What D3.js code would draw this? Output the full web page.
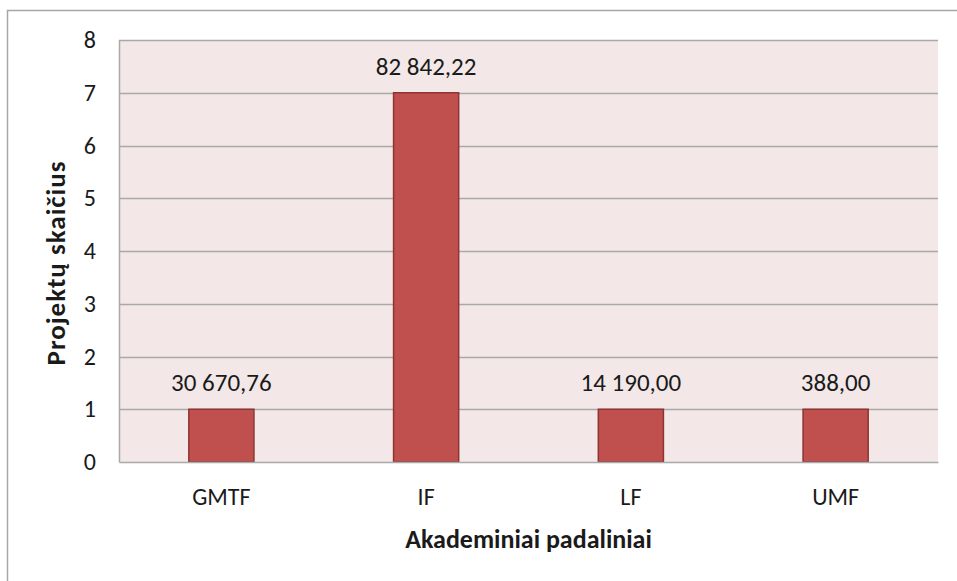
<!DOCTYPE html>
<html>
<head>
<meta charset="utf-8">
<script src="https://cdn.jsdelivr.net/npm/d3@7"></script>
<style>
  html, body { margin: 0; padding: 0; background: #ffffff; }
  svg { display: block; font-family: Carlito, Lato, "Open Sans", sans-serif; }
</style>
</head>
<body>
<svg id="chart" width="957" height="581"></svg>
<script>
// Academic units, number of projects and their funding labels
const units = ["GMTF", "IF", "LF", "UMF"];
const projectCounts = [1, 7, 1, 1];
const fundingLabels = ["30 670,76", "82 842,22", "14 190,00", "388,00"];
const yTicks = [0, 1, 2, 3, 4, 5, 6, 7, 8];

const svg = d3.select("#chart");
const W = 957, H = 581;
const plot = { left: 119, right: 938, top: 40, bottom: 462 };

// outer frame
svg.append("rect")
  .attr("x", 7.5).attr("y", 10.5)
  .attr("width", W + 10).attr("height", H + 10)
  .attr("fill", "#ffffff").attr("stroke", "#a6a6a6").attr("stroke-width", 1.5);

const x = d3.scaleBand().domain(units).range([plot.left, plot.right]).paddingInner(0.682).paddingOuter(0.341);
const y = d3.scaleLinear().domain([0, 8]).range([plot.bottom, plot.top]);

// plot background
svg.append("rect")
  .attr("x", plot.left).attr("y", plot.top)
  .attr("width", plot.right - plot.left).attr("height", plot.bottom - plot.top)
  .attr("fill", "#f3e8e7");

// horizontal gridlines
svg.append("g")
  .selectAll("line")
  .data(yTicks.filter(d => d > 0))
  .join("line")
  .attr("x1", plot.left).attr("x2", plot.right)
  .attr("y1", d => Math.round(y(d)) + 0.5).attr("y2", d => Math.round(y(d)) + 0.5)
  .attr("stroke", "#a9a9a9").attr("stroke-width", 1.5);

// bars
svg.append("g")
  .selectAll("rect")
  .data(units)
  .join("rect")
  .attr("x", d => x(d))
  .attr("y", (d, i) => y(projectCounts[i]))
  .attr("width", x.bandwidth())
  .attr("height", (d, i) => y(0) - y(projectCounts[i]))
  .attr("fill", "#c0504d")
  .attr("stroke", "#8e3432")
  .attr("stroke-width", 1.5);

// value labels
svg.append("g")
  .selectAll("text")
  .data(units)
  .join("text")
  .attr("x", d => x(d) + x.bandwidth() / 2)
  .attr("y", (d, i) => y(projectCounts[i]) - 18)
  .attr("text-anchor", "middle")
  .attr("font-size", 25)
  .attr("fill", "#1a1a1a")
  .text((d, i) => fundingLabels[i]);

// y axis
const yAxis = svg.append("g")
  .attr("transform", `translate(${plot.left},0)`)
  .call(d3.axisLeft(y).tickValues(yTicks).tickSize(0).tickPadding(23).tickFormat(d3.format("d")))
  .attr("font-family", null).attr("font-size", 24);
yAxis.select(".domain").attr("stroke", "#a9a9a9").attr("stroke-width", 1.5);
yAxis.selectAll("text").attr("fill", "#1a1a1a");

// x axis
const xAxis = svg.append("g")
  .attr("transform", `translate(0,${plot.bottom})`)
  .call(d3.axisBottom(x).tickSize(0).tickPadding(26))
  .attr("font-family", null).attr("font-size", 24);
xAxis.select(".domain").attr("stroke", "#a9a9a9").attr("stroke-width", 1.5);
xAxis.selectAll("text").attr("fill", "#1a1a1a");

// axis titles
svg.append("text")
  .attr("x", (plot.left + plot.right) / 2)
  .attr("y", 548)
  .attr("text-anchor", "middle")
  .attr("font-size", 26).attr("font-weight", "bold").attr("fill", "#1a1a1a")
  .text("Akademiniai padaliniai");

svg.append("text")
  .attr("transform", `translate(65,263) rotate(-90)`)
  .attr("text-anchor", "middle")
  .attr("font-size", 27).attr("font-weight", "bold").attr("letter-spacing", 1).attr("fill", "#1a1a1a")
  .text("Projektų skaičius");
</script>
</body>
</html>
